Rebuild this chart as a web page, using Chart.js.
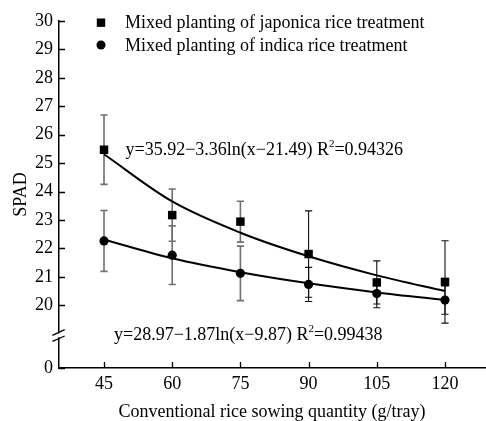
<!DOCTYPE html>
<html><head><meta charset="utf-8">
<script src="https://cdn.jsdelivr.net/npm/chart.js@4.4.0/dist/chart.umd.min.js"></script>
<style>html,body{margin:0;padding:0;background:#fff;}#wrap{width:486px;height:421px;}</style>
</head><body><div id="wrap"><canvas id="c" width="486" height="421"></canvas></div>
<script>
// ---- data ----
const categories = [45, 60, 75, 90, 105, 120];
const japonicaMean = [25.47, 23.17, 22.94, 21.80, 20.80, 20.82];
const japonicaErr  = [1.22, 0.92, 0.72, 1.52, 0.76, 1.45];
const indicaMean   = [22.26, 21.76, 21.12, 20.73, 20.41, 20.18];
const indicaErr    = [1.07, 1.03, 0.96, 0.60, 0.50, 0.50];
const japonicaFit  = [25.31, 23.65, 22.55, 21.72, 21.05, 20.50];
const indicaFit    = [22.31, 21.65, 21.16, 20.77, 20.45, 20.18];
const yTickLabels  = ['0', '20', '21', '22', '23', '24', '25', '26', '27', '28', '29', '30'];
const seriesLabels = ['Mixed planting of japonica rice treatment', 'Mixed planting of indica rice treatment'];
const fitEquations = [['y=35.92\u22123.36ln(x\u221221.49) R', '2', '=0.94326'],
                      ['y=28.97\u22121.87ln(x\u22129.87) R', '2', '=0.99438']];
const xTitle = 'Conventional rice sowing quantity (g/tray)';
const yTitle = 'SPAD';

// axis-break: value 0 is shown at this position on the broken axis
const ZERO_AT = 17.79;
const BREAK_AT = 18.94;
const yTickValues = yTickLabels.map(l => l === '0' ? ZERO_AT : Number(l));

const FONT = "'Liberation Serif', 'Times New Roman', serif";
const font18 = {family: FONT, size: 18};

const toXY = (arr) => categories.map((c, i) => ({x: c, y: arr[i]}));

const errorBars = {
  id: 'errorBars',
  beforeDatasetsDraw(chart) {
    const ctx = chart.ctx, ys = chart.scales.y;
    const sets = [[0, japonicaMean, japonicaErr], [1, indicaMean, indicaErr]];
    ctx.save();
    sets.forEach(([di, mean, err]) => {
      const meta = chart.getDatasetMeta(di);
      meta.data.forEach((pt, i) => {
        const x = pt.x;
        const y1 = ys.getPixelForValue(mean[i] + err[i]);
        const y2 = ys.getPixelForValue(mean[i] - err[i]);
        ctx.strokeStyle = i < 3 ? '#707070' : '#111';
        ctx.lineWidth = i < 3 ? 1.6 : 1.1;
        ctx.beginPath();
        ctx.moveTo(x, y1); ctx.lineTo(x, y2);
        ctx.moveTo(x - 3.6, y1); ctx.lineTo(x + 3.6, y1);
        ctx.moveTo(x - 3.6, y2); ctx.lineTo(x + 3.6, y2);
        ctx.stroke();
      });
    });
    ctx.restore();
  }
};

const decorations = {
  id: 'decorations',
  afterDraw(chart) {
    const ctx = chart.ctx, xs = chart.scales.x, ys = chart.scales.y;
    const area = chart.chartArea;
    ctx.save();
    // inward ticks
    ctx.strokeStyle = '#000'; ctx.lineWidth = 1.3;
    ctx.beginPath();
    yTickValues.forEach(v => {
      const y = Math.round(ys.getPixelForValue(v)) + 0.5;
      ctx.moveTo(area.left, y); ctx.lineTo(area.left + 6, y);
    });
    categories.forEach(v => {
      const x = Math.round(xs.getPixelForValue(v)) + 0.5;
      ctx.moveTo(x, area.bottom); ctx.lineTo(x, area.bottom - 6);
    });
    ctx.stroke();
    // axis break
    const yb = ys.getPixelForValue(BREAK_AT);
    ctx.fillStyle = '#fff';
    ctx.fillRect(area.left - 3, yb - 2, 6, 4);
    ctx.lineWidth = 1.3;
    ctx.beginPath();
    ctx.moveTo(area.left - 6.6, yb); ctx.lineTo(area.left + 5.7, yb - 5.7);
    ctx.moveTo(area.left - 6.6, yb + 6); ctx.lineTo(area.left + 5.7, yb + 0.7);
    ctx.stroke();
    // legend
    ctx.fillStyle = '#000';
    ctx.font = "18px " + FONT;
    ctx.textBaseline = 'middle';
    ctx.textAlign = 'left';
    const lx = 101, ly = [22.7, 45];
    ctx.fillRect(lx - 4.2, ly[0] - 4.2, 8.4, 8.4);
    ctx.beginPath(); ctx.arc(lx, ly[1], 4.5, 0, Math.PI * 2); ctx.fill();
    ctx.fillText(chart.data.datasets[0].label, 125, ly[0] + 1);
    ctx.fillText(chart.data.datasets[1].label, 125, ly[1] + 1);
    // fit equations
    const eqPos = [[125.5, 150], [114, 335]];
    fitEquations.forEach((parts, k) => {
      let [x, y] = eqPos[k];
      ctx.font = "18px " + FONT;
      ctx.fillText(parts[0], x, y);
      x += ctx.measureText(parts[0]).width;
      ctx.font = "11px " + FONT;
      ctx.fillText(parts[1], x, y - 6);
      x += ctx.measureText(parts[1]).width;
      ctx.font = "18px " + FONT;
      ctx.fillText(parts[2], x, y);
    });
    ctx.restore();
  }
};

const axisCommon = {
  grid: {display: false, drawTicks: false, drawOnChartArea: false},
  border: {display: true, color: '#000', width: 1.5},
};

new Chart(document.getElementById('c'), {
  type: 'scatter',
  data: {
    datasets: [
      {label: seriesLabels[0], data: toXY(japonicaMean), pointStyle: 'rect', pointRadius: 6,
       backgroundColor: '#000', borderColor: '#000', borderWidth: 0, showLine: false},
      {label: seriesLabels[1], data: toXY(indicaMean), pointStyle: 'circle', pointRadius: 4.6,
       backgroundColor: '#000', borderColor: '#000', borderWidth: 0, showLine: false},
      {label: 'fit1', data: toXY(japonicaFit), showLine: true, pointRadius: 0, borderColor: '#000',
       borderWidth: 2, cubicInterpolationMode: 'monotone', fill: false},
      {label: 'fit2', data: toXY(indicaFit), showLine: true, pointRadius: 0, borderColor: '#000',
       borderWidth: 2, cubicInterpolationMode: 'monotone', fill: false}
    ]
  },
  options: {
    responsive: false, animation: false, devicePixelRatio: 1,
    layout: {autoPadding: false, padding: {top: 21, right: 1, left: 0, bottom: 0}},
    plugins: {legend: {display: false}, tooltip: {enabled: false}},
    scales: {
      x: Object.assign({}, axisCommon, {
        type: 'linear', min: 35.1, max: 128.8,
        afterBuildTicks: s => { s.ticks = categories.map(v => ({value: v})); },
        afterFit: s => { s.height = 53; s.paddingLeft = 0; s.paddingRight = 0; },
        ticks: {color: '#000', font: font18, padding: 5, maxRotation: 0, autoSkip: false,
                callback: v => String(v)},
        title: {display: true, text: xTitle, color: '#000', font: font18, padding: {top: 0, bottom: -2}}
      }),
      y: Object.assign({}, axisCommon, {
        type: 'linear', min: ZERO_AT, max: 30,
        afterBuildTicks: s => { s.ticks = yTickValues.map(v => ({value: v})); },
        afterFit: s => { s.width = 59; s.paddingTop = 0; s.paddingBottom = 0; },
        ticks: {color: '#000', font: font18, padding: 6, autoSkip: false,
                callback: (v, i) => yTickLabels[i]},
        title: {display: true, text: yTitle, color: '#000', font: font18, padding: {top: 10, bottom: 0}}
      })
    }
  },
  plugins: [errorBars, decorations]
});
</script></body></html>
